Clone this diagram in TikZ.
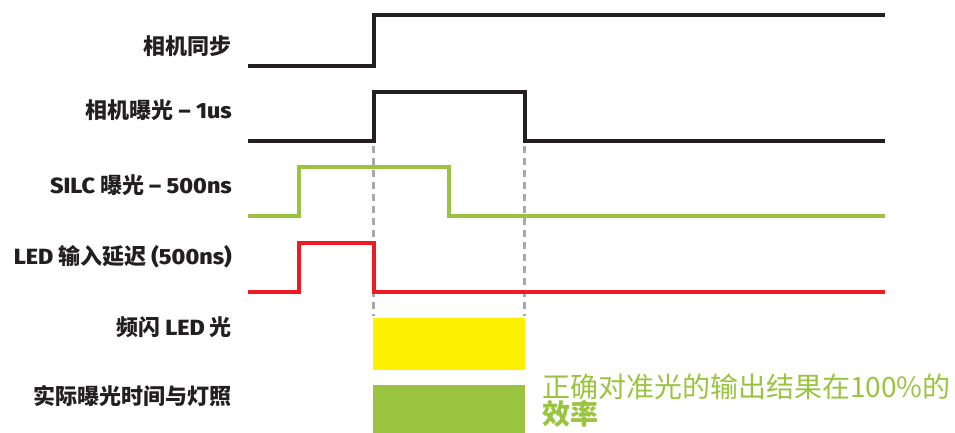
\documentclass[tikz,border=0pt]{standalone}
\usepackage{fontspec}
\setmainfont{Fira Sans}
\newfontfamily\cjk{Noto Sans CJK SC}
\newfontfamily\lat{Fira Sans Medium}[FakeStretch=1.06]
\definecolor{sigdark}{HTML}{231F20}
\definecolor{siggreen}{HTML}{9AC340}
\definecolor{sigred}{HTML}{ED1C24}
\definecolor{sigyellow}{HTML}{FFF000}
\definecolor{siggray}{HTML}{A7A9AC}
\begin{document}
\begin{tikzpicture}[x=1pt,y=-1pt,
  lbl/.style={anchor=east,font=\cjk\bfseries\fontsize{22}{24}\selectfont,text=sigdark,inner sep=0pt},
  wave/.style={line width=4pt,line join=miter},
  guide/.style={siggray,line width=2.5pt,dash pattern=on 7pt off 5pt},
  note/.style={anchor=west,font=\cjk\fontsize{28}{30}\selectfont,text=siggreen,inner sep=0pt}]
\useasboundingbox (0,0) rectangle (955,432);
% labels
\node[lbl] (l1) at (232,46) {相机同步};
\node[lbl] (l2) at (232,110) {相机曝光 {\lat – 1us}};
\node[lbl] (l3) at (232,185) {{\lat SILC} 曝光 {\lat – 500ns}};
\node[lbl] (l4) at (232,257) {{\lat LED} 输入延迟 {\lat (500ns)}};
\node[lbl] (l5) at (232,327) {频闪 {\lat LED} 光};
\node[lbl] (l6) at (232,396) {实际曝光时间与灯照};
% guide lines
\coordinate (g1t) at (373.5,146);
\coordinate (g1b) at (373.5,316);
\coordinate (g2t) at (524.5,146);
\coordinate (g2b) at (524.5,316);
\draw[guide] (g1t) -- (g1b);
\draw[guide] (g2t) -- (g2b);
% waveform 1: camera sync
\coordinate (a0) at (248,66);
\coordinate (a1) at (374,66);
\coordinate (a2) at (374,15);
\coordinate (a3) at (885,15);
\draw[wave,sigdark] (a0) -- (a1) -- (a2) -- (a3);
% waveform 2: camera exposure
\coordinate (b0) at (248,141);
\coordinate (b1) at (374,141);
\coordinate (b2) at (374,92);
\coordinate (b3) at (525,92);
\coordinate (b4) at (525,141);
\coordinate (b5) at (885,141);
\draw[wave,sigdark] (b0) -- (b1) -- (b2) -- (b3) -- (b4) -- (b5);
% waveform 3: SILC exposure
\coordinate (c0) at (248,216);
\coordinate (c1) at (299,216);
\coordinate (c2) at (299,167);
\coordinate (c3) at (449,167);
\coordinate (c4) at (449,216);
\coordinate (c5) at (885,216);
\draw[wave,siggreen] (c0) -- (c1) -- (c2) -- (c3) -- (c4) -- (c5);
% waveform 4: LED input delay
\coordinate (d0) at (248,292);
\coordinate (d1) at (299,292);
\coordinate (d2) at (299,243);
\coordinate (d3) at (374,243);
\coordinate (d4) at (374,292);
\coordinate (d5) at (885,292);
\draw[wave,sigred] (d0) -- (d1) -- (d2) -- (d3) -- (d4) -- (d5);
% bars
\node[fill=sigyellow,minimum width=152pt,minimum height=52pt,inner sep=0pt,anchor=north west] (ybar) at (373,318) {};
\node[fill=siggreen,minimum width=152pt,minimum height=48pt,inner sep=0pt,anchor=north west] (gbar) at (373,385) {};
% note
\node[note] (n1) at (542,387) {正确对准光的输出结果在100\%的};
\node[note,font=\cjk\bfseries\fontsize{28}{30}\selectfont] (n2) at (542,414) {效率};
\end{tikzpicture}
\end{document}
